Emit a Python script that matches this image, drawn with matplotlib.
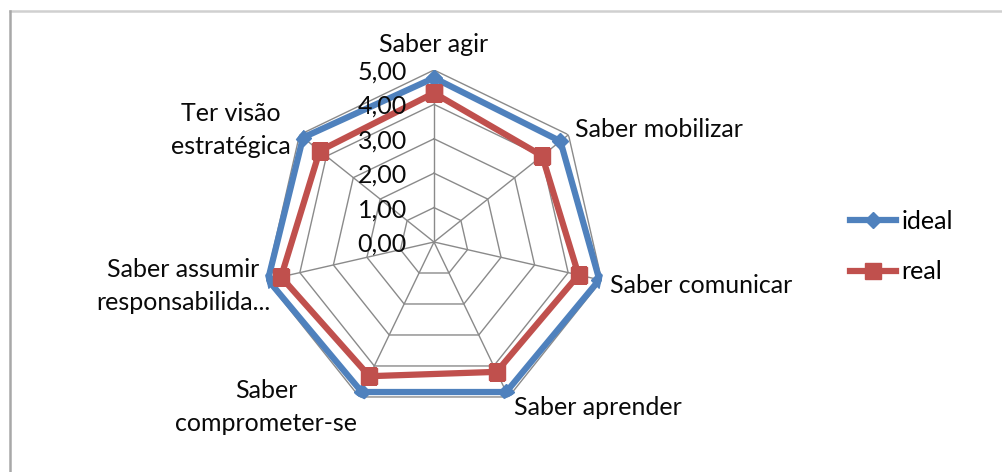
import numpy as np
import matplotlib
matplotlib.use("Agg")
import matplotlib.pyplot as plt
from matplotlib.lines import Line2D

plt.rcParams['font.family'] = ['Lato', 'DejaVu Sans']

# Data
categories = ['Saber agir', 'Saber mobilizar', 'Saber comunicar', 'Saber aprender',
              'Saber\ncomprometer-se', 'Saber assumir\nresponsabilida...', 'Ter visão\nestratégica']
ideal = [4.77, 4.70, 4.93, 4.84, 4.84, 4.95, 4.87]
real = [4.33, 4.02, 4.31, 4.19, 4.33, 4.56, 4.25]
levels = [0, 1, 2, 3, 4, 5]
level_labels = ['0,00', '1,00', '2,00', '3,00', '4,00', '5,00']

BLUE = '#4F81BD'
RED = '#C0504D'
GRID = '#8a8a8a'
TXT = '#0a0a0a'
FS = 18

n = len(categories)
angles = np.linspace(0, 2 * np.pi, n, endpoint=False)
closed = np.append(angles, angles[0])

fig = plt.figure(figsize=(10.03, 4.72), dpi=100)
W, H = 1003, 472
cx, cy, R = 434, 242, 172
ax = fig.add_axes([(cx - R) / W, (H - cy - R) / H, 2 * R / W, 2 * R / H], projection='polar')
ax.set_theta_offset(np.pi / 2)
ax.set_theta_direction(-1)
ax.set_ylim(0, 5)
ax.grid(False)
ax.spines['polar'].set_visible(False)
ax.set_xticks([])
ax.set_yticks([])
ax.patch.set_alpha(0)

# polygon grid
for lv in levels[1:]:
    ax.plot(closed, [lv] * (n + 1), color=GRID, lw=1.0, zorder=1)
for a in angles:
    ax.plot([a, a], [0, 5], color=GRID, lw=1.0, zorder=1)

ax.plot(closed, ideal + ideal[:1], color=BLUE, lw=4.5, marker='D', ms=8,
        label='ideal', zorder=3)
ax.plot(closed, real + real[:1], color=RED, lw=4.5, marker='s', ms=11.5,
        label='real', zorder=4)

# value labels along the vertical axis
for lv, lab in zip(levels, level_labels):
    ax.annotate(lab, xy=(0, lv), xytext=(-27, -2), textcoords='offset pixels',
                ha='right', va='center', fontsize=FS, color=TXT, zorder=5)

# category labels
offsets = [(0, 25, 'center'), (7, 5, 'left'), (8, -5, 'left'), (5, -11, 'left'),
           (-2, -10, 'right'), (4, -6, 'right'), (-9, 5, 'right')]
for a, lab, (dx, dy, ha) in zip(angles, categories, offsets):
    ax.annotate(lab, xy=(a, 5), xytext=(dx, dy), textcoords='offset pixels',
                ha=ha, va='center', multialignment='center', fontsize=FS,
                color=TXT, linespacing=1.55, annotation_clip=False)

fig.legend(loc='upper left', bbox_to_anchor=(850 / W, 1 - 210 / H),
           frameon=False, fontsize=FS, handlelength=1.85, handletextpad=0.2,
           labelspacing=1.1, borderpad=0, borderaxespad=0)

# chart area border (top and left visible)
fig.add_artist(Line2D([10 / W, 1], [1 - 11 / H, 1 - 11 / H], color='#d0d0d0', lw=1.8))
fig.add_artist(Line2D([10 / W, 10 / W], [0, 1 - 11 / H], color='#a8a8a8', lw=1.8))

fig.savefig('out.png', dpi=100, facecolor='white')
